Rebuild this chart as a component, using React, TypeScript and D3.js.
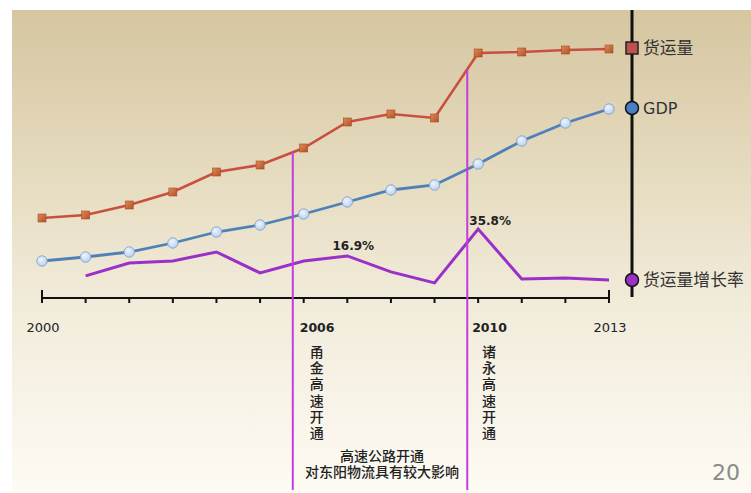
import React from "react";
import * as d3 from "d3";

const years = [2000, 2001, 2002, 2003, 2004, 2005, 2006, 2007, 2008, 2009, 2010, 2011, 2012, 2013];
const freight = [80, 83, 93, 106, 126, 133, 150, 176, 184, 180, 245, 246, 248, 249];
const gdp = [37, 41, 46, 55, 66, 73, 84, 96, 108, 113, 134, 157, 175, 189];
const growthYears = [2001, 2002, 2003, 2004, 2005, 2006, 2007, 2008, 2009, 2010, 2011, 2012, 2013];
const growth = [2.9, 12.0, 13.4, 19.7, 5.0, 13.4, 16.9, 5.7, -2.0, 35.8, 0.8, 1.5, 0.1];
const growthLabels = [
  { year: 2007, text: "16.9%", dx: 6, dy: -6 },
  { year: 2010, text: "35.8%", dx: 12, dy: -4 },
];
const tickLabels = [
  { year: 2000, text: "2000", bold: false, anchor: "middle", dx: 1 },
  { year: 2006, text: "2006", bold: true, anchor: "start", dx: -4 },
  { year: 2010, text: "2010", bold: true, anchor: "start", dx: -6 },
  { year: 2013, text: "2013", bold: false, anchor: "middle", dx: 1 },
];
const events = [
  { year: 2005.75, label: "甬金高速开通", textYear: 2006.3 },
  { year: 2009.75, label: "诸永高速开通", textYear: 2010.25 },
];
const noteLines = ["高速公路开通", "对东阳物流具有较大影响"];
const legendItems = [
  { name: "货运量", shape: "square", color: "#c0504d" },
  { name: "GDP", shape: "circle", color: "#4a7ec4" },
  { name: "货运量增长率", shape: "circle", color: "#9b30c8" },
];

const W = 751;
const H = 493;
const CJK = "'Noto Sans CJK SC', 'Noto Sans', sans-serif";
const CJK_TIGHT = "'Liberation Sans', 'Noto Sans CJK SC', sans-serif";
const LAT = "'DejaVu Sans', 'Noto Sans', sans-serif";

export default function App() {
  const x = d3.scaleLinear().domain([2000, 2013]).range([42, 609]);
  const y = d3.scaleLinear().domain([0, 260]).range([298, 38]);
  const yp = d3.scaleLinear().domain([-5, 40]).range([287.2, 223]);
  const axisY = 298;

  const lineF = d3.line<number>().x((_, i) => x(years[i])).y((d) => y(d));
  const lineP = d3.line<number>().x((_, i) => x(growthYears[i])).y((d) => yp(d));

  const freightAt = (yr: number) => {
    const i = Math.floor(yr - 2000);
    const t = yr - 2000 - i;
    return freight[i] + (freight[i + 1] - freight[i]) * t;
  };

  const legendYs = [48, 108, 280];
  const legendX = 632;

  return (
    <svg width={W} height={H} style={{ position: "absolute", left: 0, top: 0, display: "block" }}>
      <defs>
        <linearGradient id="bg" x1="0" y1="0" x2="0" y2="1">
          <stop offset="0" stopColor="#d6c6a1" />
          <stop offset="0.35" stopColor="#e6dcc0" />
          <stop offset="0.6" stopColor="#f1ebda" />
          <stop offset="1" stopColor="#fefbf4" />
        </linearGradient>
        <linearGradient id="sq" x1="0" y1="0" x2="1" y2="1">
          <stop offset="0" stopColor="#e08a55" />
          <stop offset="1" stopColor="#b05428" />
        </linearGradient>
        <radialGradient id="circ" cx="0.4" cy="0.35" r="0.7">
          <stop offset="0" stopColor="#eef4fc" />
          <stop offset="1" stopColor="#b8cfee" />
        </radialGradient>
      </defs>
      <rect x={0} y={0} width={W} height={H} fill="#ffffff" />
      <rect x={12} y={10} width={W - 12} height={H - 10} fill="url(#bg)" />

      {/* x axis */}
      <line x1={x(2000)} x2={x(2013)} y1={axisY} y2={axisY} stroke="#111" strokeWidth={2} />
      {years.map((yr, i) => (
        <line
          key={yr}
          x1={x(yr)}
          x2={x(yr)}
          y1={i === 0 || i === years.length - 1 ? axisY - 8 : axisY}
          y2={axisY + 5}
          stroke="#111"
          strokeWidth={2}
        />
      ))}
      {tickLabels.map((t) => (
        <text
          key={t.year}
          x={x(t.year) + t.dx}
          y={332}
          textAnchor={t.anchor as any}
          fontFamily={LAT}
          fontSize={t.bold ? 12.5 : 13}
          fontWeight={t.bold ? "bold" : "normal"}
          fill="#222"
        >
          {t.text}
        </text>
      ))}

      {/* freight line */}
      <path d={lineF(freight) || ""} fill="none" stroke="#c9503f" strokeWidth={2.6} />
      {freight.map((v, i) => (
        <rect
          key={i}
          x={x(years[i]) - 4}
          y={y(v) - 4}
          width={8}
          height={8}
          fill="url(#sq)"
          stroke="#a64a2a"
          strokeWidth={0.6}
        />
      ))}

      {/* GDP line */}
      <path d={lineF(gdp) || ""} fill="none" stroke="#4f81b8" strokeWidth={2.8} />
      {gdp.map((v, i) => (
        <circle key={i} cx={x(years[i])} cy={y(v)} r={5.2} fill="url(#circ)" stroke="#8aa9d3" strokeWidth={1} />
      ))}

      {/* growth line */}
      <path d={lineP(growth) || ""} fill="none" stroke="#9b30c8" strokeWidth={3} />
      {growthLabels.map((g) => (
        <text
          key={g.year}
          x={x(g.year) + g.dx}
          y={yp(growth[growthYears.indexOf(g.year)]) + g.dy}
          textAnchor="middle"
          fontFamily={LAT}
          fontSize={12}
          fontWeight="bold"
          fill="#222"
        >
          {g.text}
        </text>
      ))}

      {/* event lines */}
      {events.map((e) => (
        <g key={e.label}>
          <line
            x1={x(e.year)}
            x2={x(e.year)}
            y1={y(freightAt(e.year))}
            y2={490}
            stroke="#c43ce0"
            strokeWidth={2}
          />
          <text textAnchor="middle" fontFamily={CJK_TIGHT} fontSize={14} fontWeight={500} fill="#222">
            {Array.from(e.label).map((ch, k) => (
              <tspan key={k} x={x(e.textYear)} y={357 + k * 16.2}>
                {ch}
              </tspan>
            ))}
          </text>
        </g>
      ))}
      <text textAnchor="middle" fontFamily={CJK_TIGHT} fontSize={14} fontWeight={500} fill="#222">
        {noteLines.map((t, k) => (
          <tspan key={t} x={382} y={461 + k * 16}>
            {t}
          </tspan>
        ))}
      </text>

      {/* legend axis */}
      <line x1={legendX} x2={legendX} y1={10} y2={297} stroke="#111" strokeWidth={3} />
      {legendItems.map((l, k) =>
        l.shape === "square" ? (
          <rect
            key={l.name}
            x={legendX - 6}
            y={legendYs[k] - 6}
            width={12}
            height={12}
            fill={l.color}
            stroke="#222"
            strokeWidth={1.5}
          />
        ) : (
          <circle key={l.name} cx={legendX} cy={legendYs[k]} r={6.5} fill={l.color} stroke="#111" strokeWidth={1.5} />
        )
      )}
      {legendItems.map((l, k) => (
        <text
          key={l.name + "t"}
          x={643}
          y={legendYs[k] + 6}
          fontFamily={l.name === "GDP" ? LAT : CJK}
          fontSize={l.name === "GDP" ? 16 : 16.8}
          fill="#333"
        >
          {l.name}
        </text>
      ))}

      <text x={740} y={480} textAnchor="end" fontFamily={LAT} fontSize={22} fill="#8a8a8a">
        20
      </text>
    </svg>
  );
}
